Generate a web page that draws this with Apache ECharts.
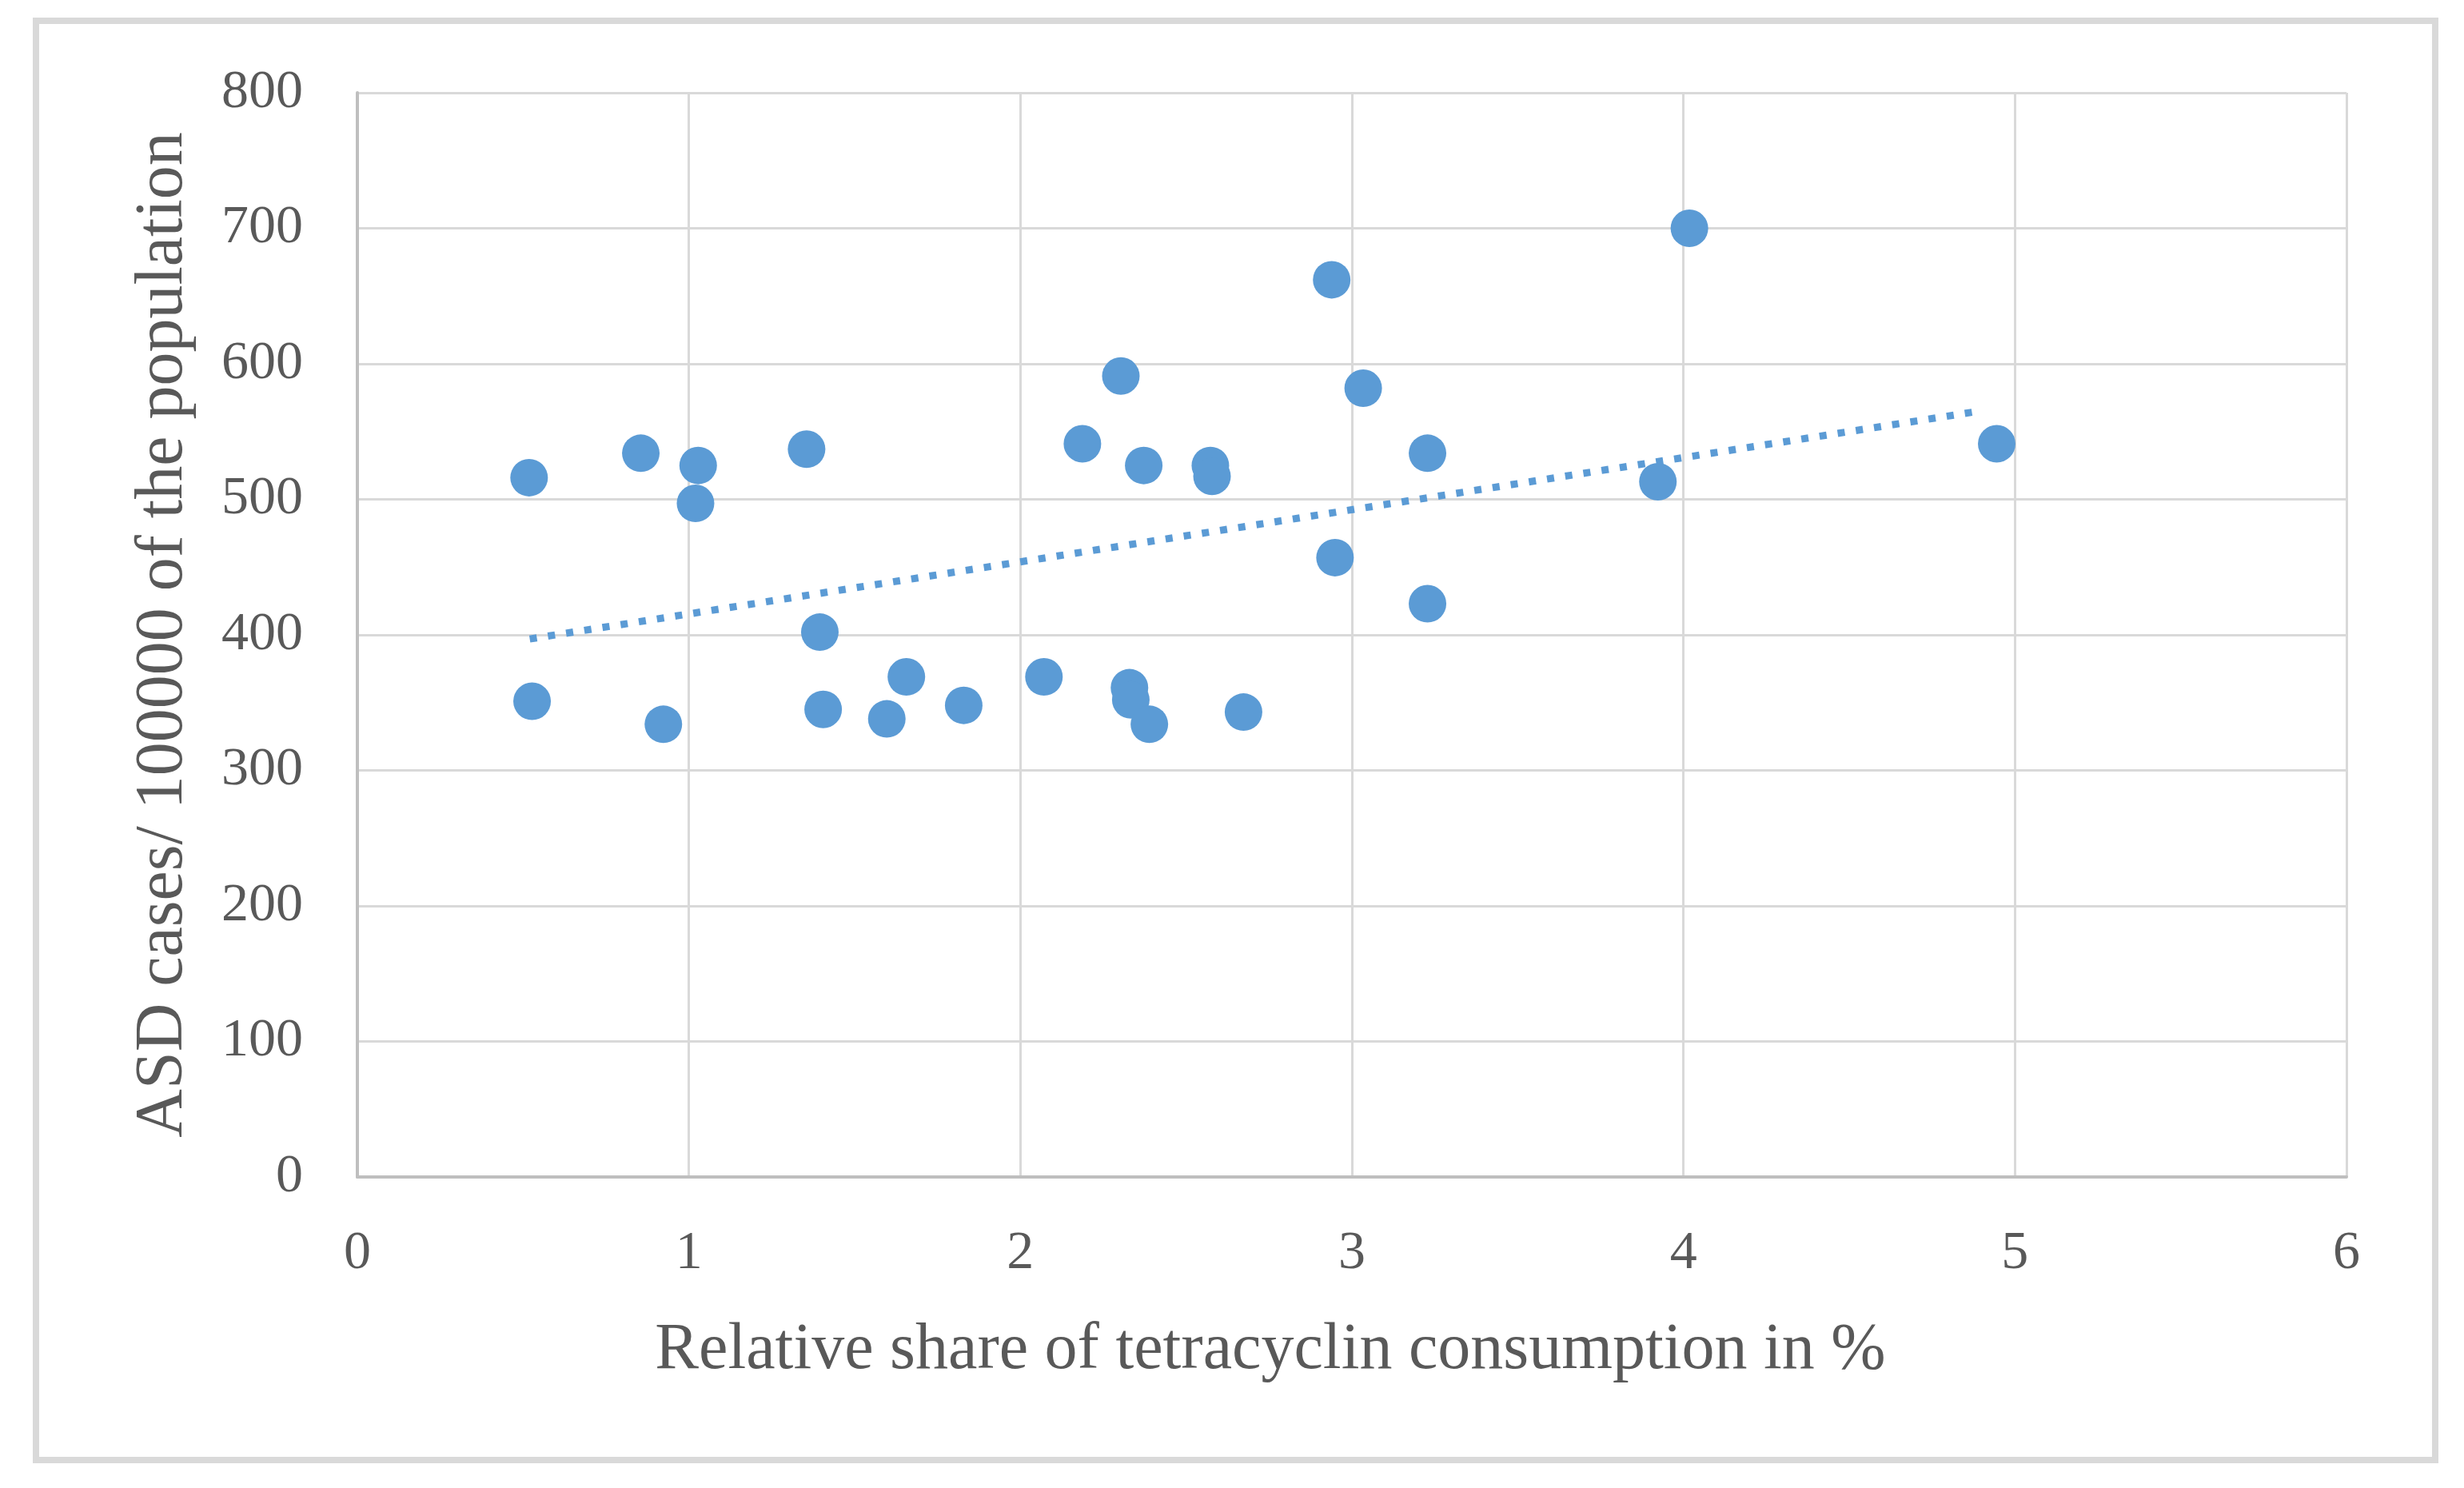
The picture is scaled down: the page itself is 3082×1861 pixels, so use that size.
<!DOCTYPE html>
<html>
<head>
<meta charset="utf-8">
<script src="https://cdn.jsdelivr.net/npm/echarts@6/dist/echarts.min.js"></script>
<style>
html,body{margin:0;padding:0;background:#fff;}
#c{width:3082px;height:1861px;}
</style>
</head>
<body>
<div id="c"></div>
<script>
// Relative share of tetracyclin consumption (%)
var xVals = [0.518, 0.527, 0.855, 0.923, 1.028, 1.020, 1.355, 1.395, 1.405, 1.597,
             1.656, 1.829, 2.071, 2.187, 2.303, 2.372, 2.329, 2.333, 2.389, 2.573,
             2.578, 2.673, 2.939, 2.949, 3.034, 3.228, 3.228, 3.923, 4.018, 4.945];
// ASD cases / 100000 of the population
var yVals = [516, 351, 534, 334, 525, 497, 537, 402, 345, 338,
             369, 348, 369, 541, 591, 525, 361, 352, 334, 525,
             517, 343, 662, 457, 582, 534, 423, 513, 700, 541];
// Linear trendline endpoints
var trendX = [0.52, 4.89];
var trendY = [397, 565];
// Axis tick settings
var xTicks = [0, 1, 2, 3, 4, 5, 6];
var yTicks = [0, 100, 200, 300, 400, 500, 600, 700, 800];

var points = xVals.map(function (x, i) { return [x, yVals[i]]; });
var trend = trendX.map(function (x, i) { return [x, trendY[i]]; });

var FONT = '"Liberation Serif", "Times New Roman", serif';
var TXT = '#595959';

var chart = echarts.init(document.getElementById('c'));
chart.setOption({
  animation: false,
  backgroundColor: '#ffffff',
  graphic: [{
    type: 'rect',
    shape: { x: 45, y: 26, width: 3001, height: 1800 },
    style: { fill: 'none', stroke: '#d9d9d9', lineWidth: 8 },
    silent: true
  }],
  grid: { left: 447, right: 147, top: 116, bottom: 389 },
  xAxis: {
    type: 'value',
    min: xTicks[0],
    max: xTicks[xTicks.length - 1],
    interval: 1,
    name: 'Relative share of tetracyclin consumption in %',
    nameLocation: 'middle',
    nameGap: 176,
    nameTextStyle: { fontFamily: FONT, fontSize: 82, color: TXT, padding: [0, 204, 0, 0] },
    axisLine: { show: true, lineStyle: { color: '#bfbfbf', width: 4 } },
    axisTick: { show: false },
    axisLabel: { fontFamily: FONT, fontSize: 68, color: TXT, margin: 62 },
    splitLine: { show: true, lineStyle: { color: '#d9d9d9', width: 3 } }
  },
  yAxis: {
    type: 'value',
    min: yTicks[0],
    max: yTicks[yTicks.length - 1],
    interval: 100,
    name: 'ASD cases/ 100000 of the population',
    nameLocation: 'middle',
    nameGap: 200,
    nameTextStyle: { fontFamily: FONT, fontSize: 84, color: TXT },
    axisLine: { show: true, lineStyle: { color: '#bfbfbf', width: 4 } },
    axisTick: { show: false },
    axisLabel: { fontFamily: FONT, fontSize: 68, color: TXT, margin: 68 },
    splitLine: { show: true, lineStyle: { color: '#d9d9d9', width: 3 } }
  },
  series: [{
    type: 'scatter',
    data: points,
    symbol: 'circle',
    symbolSize: 47,
    itemStyle: { color: '#5b9bd5', opacity: 1 },
    z: 2
  }, {
    type: 'line',
    data: trend,
    symbol: 'none',
    lineStyle: { color: '#5b9bd5', width: 9, type: [9, 14], cap: 'butt' },
    z: 3
  }]
});
</script>
</body>
</html>
